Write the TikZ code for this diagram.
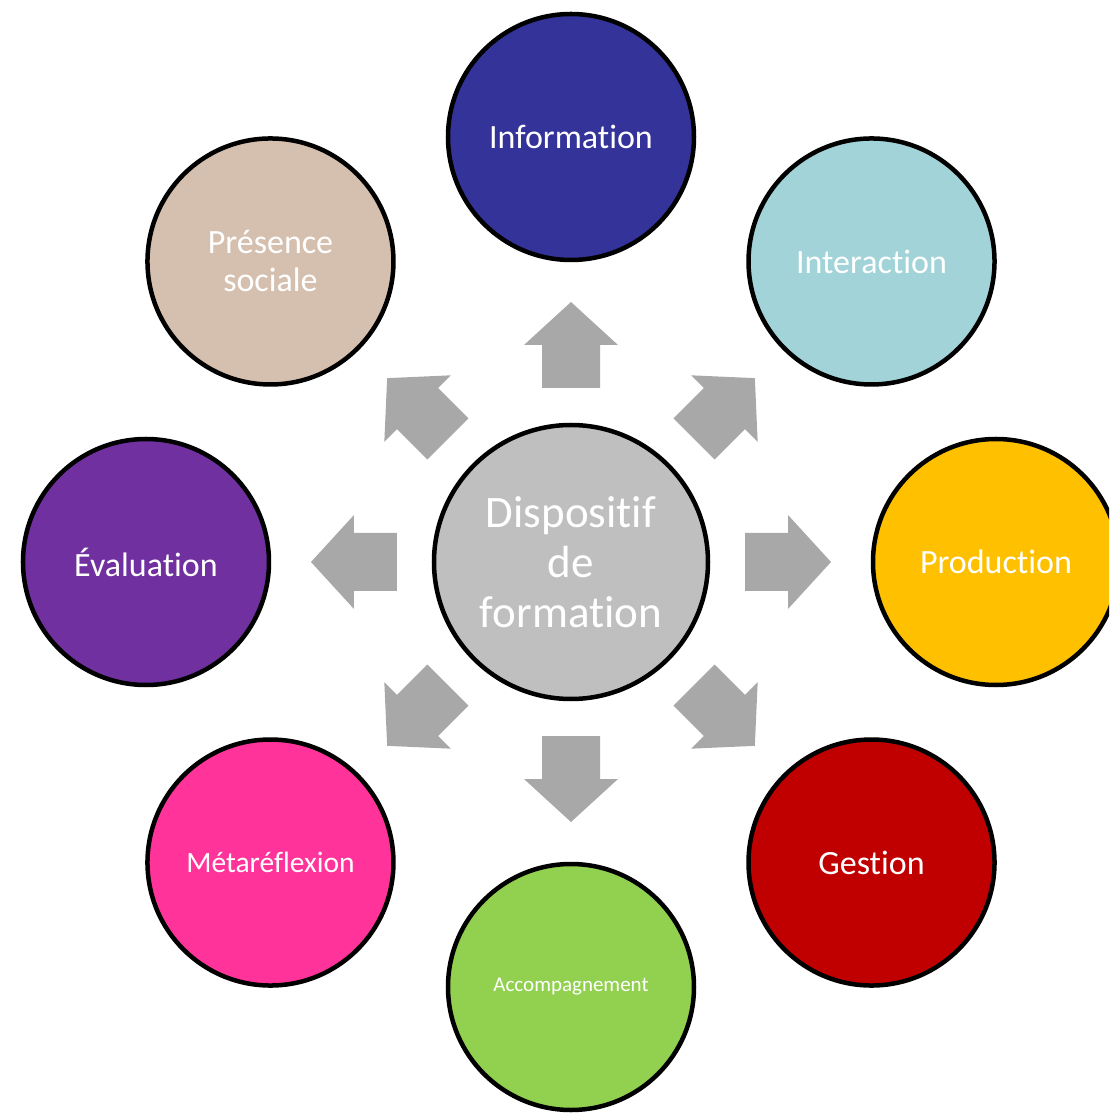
\documentclass[tikz,border=0pt]{standalone}
\usepackage{fontspec}
\setmainfont{Carlito}[Ligatures={NoCommon,NoContextual}]
\definecolor{cinfo}{RGB}{51,51,153}
\definecolor{cinter}{RGB}{161,211,216}
\definecolor{cprod}{RGB}{255,192,0}
\definecolor{cgest}{RGB}{192,0,0}
\definecolor{cacc}{RGB}{146,208,80}
\definecolor{cmeta}{RGB}{255,51,153}
\definecolor{ceval}{RGB}{112,48,160}
\definecolor{cpres}{RGB}{213,192,176}
\definecolor{ccent}{RGB}{191,191,191}
\definecolor{carrow}{RGB}{168,168,168}
\begin{document}
\begin{tikzpicture}[x=1pt,y=1pt,
  outer/.style={circle, draw=black, line width=4.5pt, minimum size=246pt, inner sep=0pt,
    text=white, align=center, font=\fontsize{34}{38}\selectfont},
  hub/.style={circle, draw=black, line width=4.5pt, minimum size=274pt, inner sep=0pt,
    fill=ccent, text=white, align=center, font=\fontsize{45}{50}\selectfont},
  blockarrow/.style={fill=carrow, draw=none}]
\useasboundingbox (-571,-551) rectangle (538,562);
\clip (-571,-551) rectangle (538,562);
% block arrows
\foreach \a in {0,45,...,315}{
  \fill[blockarrow, rotate=\a] (174,-29) -- (217,-29) -- (217,-47) -- (260,0)
    -- (217,47) -- (217,29) -- (174,29) -- cycle;
}
% hub
\node[hub] (c) at (0,0) {Dispositif\\de\\formation};
% outer circles
\node[outer, fill=cinfo]  (info) at (90:425)   {Information};
\node[outer, fill=cinter] (inter) at (45:425)  {Interaction};
\node[outer, fill=cprod]  (prod) at (0:425)    {Production};
\node[outer, fill=cgest]  (gest) at (-45:425)  {Gestion};
\node[outer, fill=cacc, font=\fontsize{21}{25}\selectfont] (acc) at (-90:425) {Accompagnement};
\node[outer, fill=cmeta, font=\fontsize{29.5}{33}\selectfont] (meta) at (-135:425) {Métaréflexion};
\node[outer, fill=ceval]  (eval) at (180:425)  {Évaluation};
\node[outer, fill=cpres]  (pres) at (135:425)  {Présence\\sociale};
\end{tikzpicture}
\end{document}
